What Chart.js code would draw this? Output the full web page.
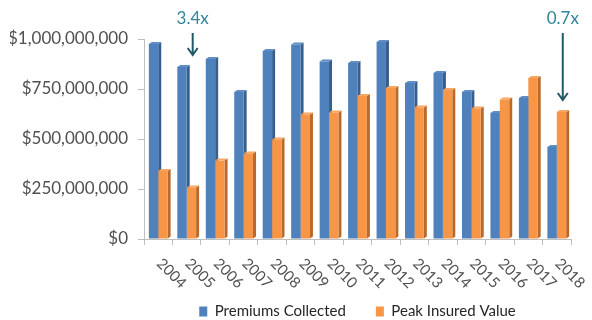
<!DOCTYPE html>
<html>
<head>
<meta charset="utf-8">
<script src="https://cdn.jsdelivr.net/npm/chart.js@4.4.0/dist/chart.umd.min.js"></script>
<style>
    html, body { margin: 0; padding: 0; background: #fff; }
    #wrap { width: 592px; height: 320px; }
</style>
</head>
<body>
<div id="wrap"><canvas id="grafico" width="592" height="320"></canvas></div>
<script>
// =======================
// DADOS
// =======================
const anos = ["2004", "2005", "2006", "2007", "2008", "2009", "2010", "2011",
    "2012", "2013", "2014", "2015", "2016", "2017", "2018"];

const premios = [975, 860, 900, 735, 940, 972, 888, 880, 985, 780, 830, 735, 630, 705, 460]
    .map(v => v * 1e6);

const valorPico = [340, 258, 392, 428, 497, 622, 632, 715, 755, 657, 745, 652, 697, 805, 635]
    .map(v => v * 1e6);

const yTicks = [0, 250e6, 500e6, 750e6, 1000e6];

const anotacoes = [
    { texto: "3.4x", indice: 1 },
    { texto: "0.7x", indice: 14 }
];

// =======================
// CORES
// =======================
const AZUL = { frente: "#4f81bd", lado: "#385e8b", topo: "#5f8dc6" };
const LARANJA = { frente: "#f79646", lado: "#b9692c", topo: "#f8a763" };
const FONTE = "Lato, 'Open Sans', sans-serif";
const TEXTO = "#505050";
const EIXO = "#bfbfbf";

// =======================
// PLUGINS
// =======================
// legenda com espaço horizontal largo mas altura curta
const legendaCompacta = {
    id: "legendaCompacta",
    beforeLayout(chart) {
        const lg = chart.legend;
        if (lg && !lg._compacta) {
            const fit = lg.fit;
            lg.fit = function () {
                fit.call(this);
                this.height = 46;
            };
            lg._compacta = true;
        }
    }
};

// faces laterais e de topo (efeito 3D do Excel)
const barras3d = {
    id: "barras3d",
    beforeDatasetsDraw(chart) {
        const ctx = chart.ctx;
        const dx = 3, dy = 2;
        chart.data.datasets.forEach((ds, i) => {
            const cores = i === 0 ? AZUL : LARANJA;
            chart.getDatasetMeta(i).data.forEach(bar => {
                const dir = bar.x + bar.width / 2;
                const esq = bar.x - bar.width / 2;
                ctx.save();
                ctx.fillStyle = cores.lado;
                ctx.beginPath();
                ctx.moveTo(dir, bar.y);
                ctx.lineTo(dir + dx, bar.y - dy);
                ctx.lineTo(dir + dx, bar.base - dy);
                ctx.lineTo(dir, bar.base);
                ctx.closePath();
                ctx.fill();
                ctx.fillStyle = cores.topo;
                ctx.beginPath();
                ctx.moveTo(esq, bar.y);
                ctx.lineTo(esq + dx, bar.y - dy);
                ctx.lineTo(dir + dx, bar.y - dy);
                ctx.lineTo(dir, bar.y);
                ctx.closePath();
                ctx.fill();
                ctx.restore();
            });
        });
    }
};

// rótulos do eixo X girados para baixo e setas com multiplicador
const extras = {
    id: "extras",
    afterDraw(chart) {
        const ctx = chart.ctx;
        const x = chart.scales.x;
        const y = chart.scales.y;
        const fundo = chart.chartArea.bottom;

        ctx.save();
        ctx.font = "15px " + FONTE;
        ctx.fillStyle = TEXTO;
        ctx.textAlign = "left";
        ctx.textBaseline = "middle";
        anos.forEach((ano, i) => {
            ctx.save();
            ctx.translate(x.getPixelForValue(i) + 1, fundo + 22);
            ctx.rotate(Math.PI / 4);
            ctx.fillText(ano, 0, 0);
            ctx.restore();
        });
        ctx.restore();

        anotacoes.forEach(a => {
            const px = x.getPixelForValue(a.indice) + 6;
            const topoBarra = y.getPixelForValue(Math.max(premios[a.indice], valorPico[a.indice]));
            const ponta = topoBarra - 12;

            ctx.save();
            ctx.font = "17px " + FONTE;
            ctx.fillStyle = "#31849b";
            ctx.textAlign = "center";
            ctx.textBaseline = "middle";
            ctx.fillText(a.texto, px, 19);

            ctx.strokeStyle = "#215968";
            ctx.lineWidth = 2;
            ctx.beginPath();
            ctx.moveTo(px, 33);
            ctx.lineTo(px, ponta);
            ctx.moveTo(px - 5, ponta - 7);
            ctx.lineTo(px, ponta);
            ctx.lineTo(px + 5, ponta - 7);
            ctx.stroke();
            ctx.restore();
        });
    }
};

// =======================
// GRÁFICO
// =======================
new Chart(document.getElementById("grafico"), {
    type: "bar",
    data: {
        labels: anos,
        datasets: [
            {
                label: "Premiums Collected",
                data: premios,
                backgroundColor: AZUL.frente,
                borderWidth: 0,
                categoryPercentage: 0.66,
                barPercentage: 1,
                clip: false
            },
            {
                label: "Peak Insured Value",
                data: valorPico,
                backgroundColor: LARANJA.frente,
                borderWidth: 0,
                categoryPercentage: 0.66,
                barPercentage: 1,
                clip: false
            }
        ]
    },
    options: {
        responsive: false,
        animation: false,
        layout: { padding: { left: 10, top: 39, right: 21, bottom: 0 } },
        plugins: {
            legend: {
                position: "bottom",
                fullSize: false,
                labels: {
                    boxWidth: 8,
                    boxHeight: 10,
                    padding: 30,
                    color: "#262626",
                    font: { family: FONTE, size: 15 }
                }
            },
            tooltip: { enabled: false }
        },
        scales: {
            x: {
                ticks: { display: false },
                grid: {
                    drawOnChartArea: false,
                    drawTicks: true,
                    tickLength: 6,
                    color: EIXO
                },
                border: { color: EIXO },
                afterFit(scale) { scale.height = 35; }
            },
            y: {
                min: 0,
                max: 1e9,
                afterBuildTicks(scale) {
                    scale.ticks = yTicks.map(v => ({ value: v }));
                },
                ticks: {
                    color: TEXTO,
                    padding: 10,
                    font: { family: FONTE, size: 17 },
                    callback: v => "$" + v.toLocaleString("en-US")
                },
                grid: {
                    drawOnChartArea: false,
                    drawTicks: true,
                    tickLength: 6,
                    color: EIXO
                },
                border: { color: EIXO },
                afterFit(scale) { scale.width = 134; }
            }
        }
    },
    plugins: [legendaCompacta, barras3d, extras]
});
</script>
</body>
</html>
